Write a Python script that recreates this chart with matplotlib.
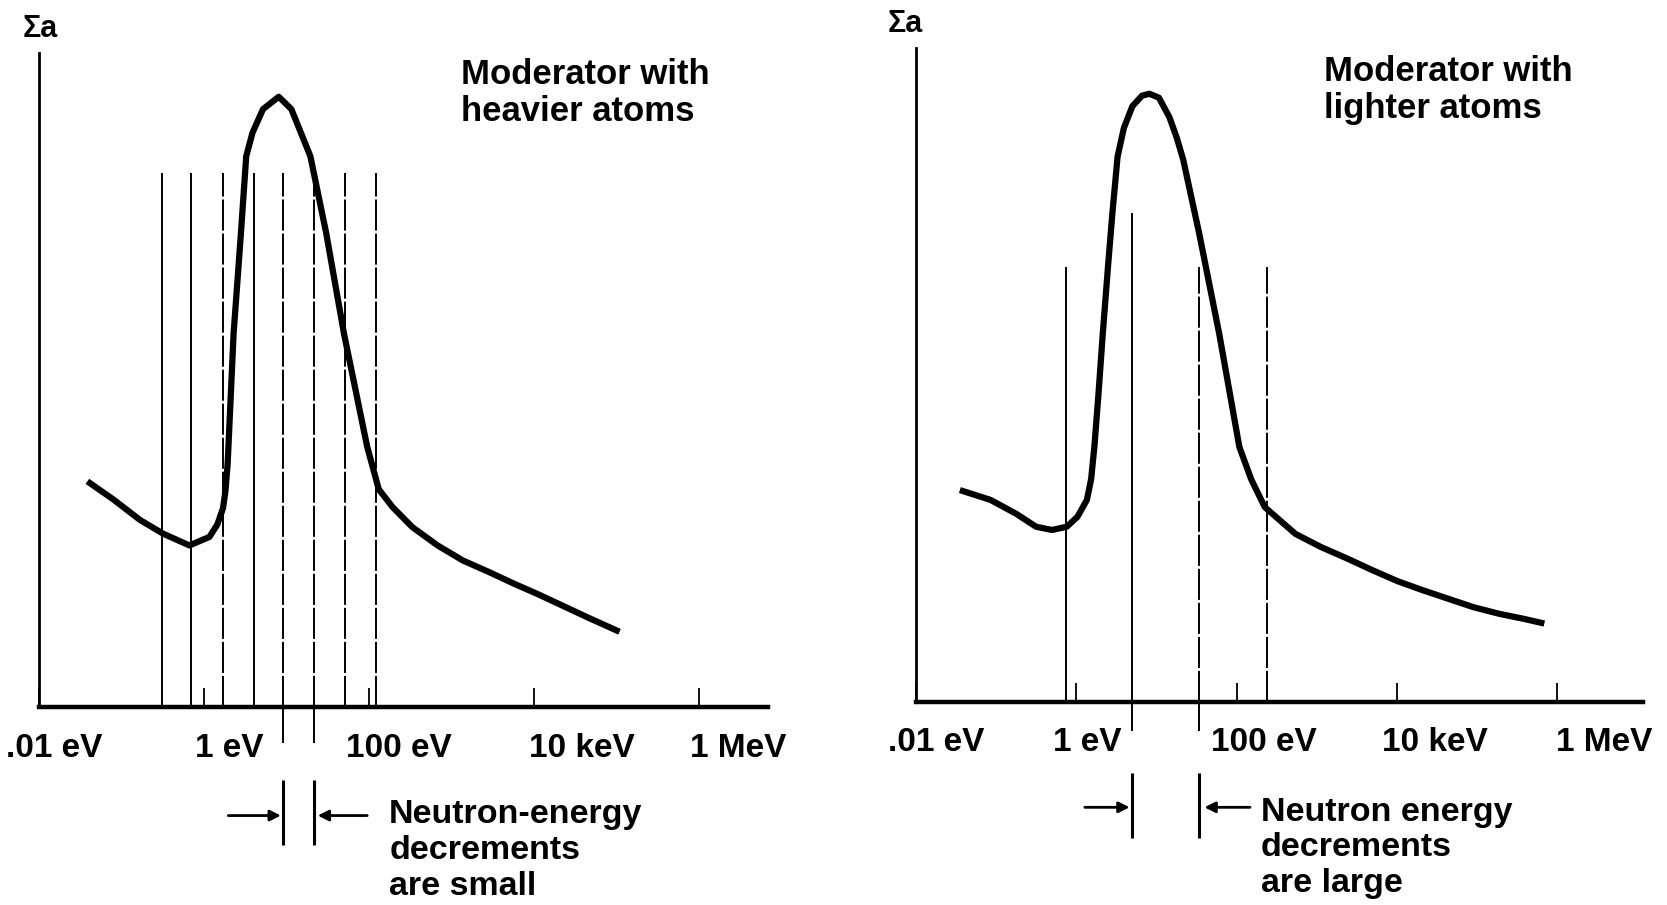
import matplotlib

matplotlib.use("Agg")
import matplotlib.pyplot as plt
from matplotlib.transforms import ScaledTranslation

plt.rcParams["font.family"] = ["Liberation Sans", "DejaVu Sans"]
plt.rcParams["font.weight"] = "bold"

# absorption curve, x in log10(E / eV), y in arbitrary units (axis height = 100)
HEAVY_LOG_E = [-1.414, -1.096, -0.777, -0.497, -0.178, 0.064, 0.160, 0.229, 0.258,
               0.285, 0.318, 0.357, 0.408, 0.446, 0.510, 0.586, 0.713, 0.904, 1.057,
               1.172, 1.287, 1.478, 1.694, 1.975, 2.115, 2.280, 2.522, 2.828, 3.134,
               3.439, 3.745, 4.051, 4.357, 4.662, 5.032]
HEAVY_SIGMA = [34.5, 31.7, 28.6, 26.5, 24.7, 26.0, 27.9, 30.4, 33.0,
               37.2, 46.3, 57.1, 65.9, 72.5, 84.2, 87.8, 91.4, 93.3, 91.4,
               87.8, 84.2, 72.5, 57.1, 39.8, 33.3, 30.6, 27.5, 24.7, 22.4,
               20.7, 18.9, 17.2, 15.4, 13.6, 11.5]
LIGHT_LOG_E = [-1.453, -1.070, -0.753, -0.502, -0.304, -0.119, 0.013, 0.132, 0.185,
               0.225, 0.277, 0.330, 0.396, 0.449, 0.515, 0.594, 0.700, 0.819, 0.911,
               1.030, 1.162, 1.255, 1.334, 1.532, 1.783, 2.034, 2.180, 2.351, 2.734,
               3.052, 3.369, 3.686, 4.003, 4.320, 4.637, 4.954, 5.271, 5.588, 5.839]
LIGHT_SIGMA = [32.4, 30.9, 28.8, 26.8, 26.3, 26.8, 28.3, 30.9, 34.1,
               39.0, 47.2, 56.3, 66.7, 74.6, 83.4, 87.8, 91.1, 92.7, 93.0,
               92.4, 89.4, 86.2, 82.9, 71.7, 56.3, 39.0, 34.1, 29.8, 25.7,
               23.7, 22.0, 20.2, 18.5, 17.1, 15.8, 14.5, 13.5, 12.7, 12.0]

# energies reached after successive collisions
HEAVY_STEPS = [-0.510, -0.153, 0.229, 0.599, 0.955, 1.325, 1.707, 2.076]
HEAVY_STEP_TOP = [81.6, 81.6, 81.6, 81.6, 81.6, 81.6, 81.6, 81.6]
HEAVY_BROKEN = [False, False, True, False, True, True, True, True]
LIGHT_STEPS = [-0.132, 0.700, 1.532, 2.378]
LIGHT_STEP_TOP = [66.5, 74.8, 66.5, 66.5]
LIGHT_BROKEN = [False, False, True, True]

TICK_LOG_E = [-2, 0, 2, 4, 6]
TICK_LABELS = [".01 eV", "1 eV", "100 eV", "10 keV", "1 MeV"]

PANELS = [
    dict(rect=[0.0234, 0.2188, 0.4373, 0.7227], xlim=(-1.90, 6.83),
         log_e=HEAVY_LOG_E, sigma=HEAVY_SIGMA, steps=HEAVY_STEPS, tops=HEAVY_STEP_TOP,
         broken=HEAVY_BROKEN, pair=(4, 5), pad=19,
         label_nudge=[-33, -9, -23, -5, -9],
         title="Moderator with\nheavier atoms", title_xy=(3.108, 93.9),
         note="Neutron-energy\ndecrements\nare small", note_xy=(2.242, -21.9),
         sigma_xy=(-2.20, 103.6), arrows=((0.293, 0.930), (1.975, 1.376)),
         arrow_y=-16.6, seg=(-11.2, -21.1), ext=-5.5),
    dict(rect=[0.5495, 0.2243, 0.4361, 0.7227], xlim=(-1.955, 7.07),
         log_e=LIGHT_LOG_E, sigma=LIGHT_SIGMA, steps=LIGHT_STEPS, tops=LIGHT_STEP_TOP,
         broken=LIGHT_BROKEN, pair=(1, 2), pad=18,
         label_nudge=[-28, -23, -26, -15, -1],
         title="Moderator with\nlighter atoms", title_xy=(3.091, 93.6),
         note="Neutron energy\ndecrements\nare large", note_xy=(2.30, -22.3),
         sigma_xy=(-2.36, 103.7), arrows=((0.106, 0.665), (2.166, 1.598)),
         arrow_y=-16.1, seg=(-10.9, -20.8), ext=-4.5),
]


def draw_panel(fig, p):
    ax = fig.add_axes(p["rect"])
    ax.set_xlim(*p["xlim"])
    ax.set_ylim(0, 100)
    for side in ("top", "right"):
        ax.spines[side].set_visible(False)
    ax.spines["bottom"].set_linewidth(3.2)
    ax.spines["left"].set_linewidth(2.0)
    ax.set_yticks([])
    ax.set_xticks(TICK_LOG_E)
    ax.set_xticklabels(TICK_LABELS, fontsize=24, fontweight="bold")
    ax.tick_params(axis="x", direction="in", length=14, width=1.3, pad=p["pad"])
    for lbl, nudge in zip(ax.get_xticklabels(), p["label_nudge"]):
        shift = ScaledTranslation(nudge / 100, 0, fig.dpi_scale_trans)
        lbl.set_horizontalalignment("left")
        lbl.set_transform(lbl.get_transform() + shift)

    ax.plot(p["log_e"], p["sigma"], color="black", linewidth=4.5,
            solid_joinstyle="round", solid_capstyle="butt")

    for x, top, broken in zip(p["steps"], p["tops"], p["broken"]):
        ls = (0, (16, 1.5)) if broken else "-"
        ax.vlines(x, 0, top, colors="black", linewidth=1.4, linestyles=[ls])

    # the marked pair of collisions, carried below the axis
    i, j = p["pair"]
    for k in (i, j):
        ax.vlines(p["steps"][k], p["ext"], 0, colors="black", linewidth=1.4, clip_on=False)
        ax.vlines(p["steps"][k], p["seg"][1], p["seg"][0], colors="black",
                  linewidth=2.2, clip_on=False)
    for tail, head in p["arrows"]:
        ax.annotate("", xy=(head, p["arrow_y"]), xytext=(tail, p["arrow_y"]),
                    annotation_clip=False,
                    arrowprops=dict(arrowstyle="-|>", color="black", lw=2.0,
                                    mutation_scale=16, shrinkA=0, shrinkB=0))

    ax.text(*p["note_xy"], p["note"], fontsize=24.5, fontweight="bold",
            ha="left", va="center", linespacing=1.2, clip_on=False)
    ax.text(*p["title_xy"], p["title"], fontsize=25, fontweight="bold",
            ha="left", va="center", linespacing=1.15, clip_on=False)
    ax.text(*p["sigma_xy"], "Σa", fontsize=22, fontweight="bold",
            ha="left", va="center", clip_on=False)
    return ax


def main():
    fig = plt.figure(figsize=(16.67, 9.05), dpi=100)
    for panel in PANELS:
        draw_panel(fig, panel)
    fig.savefig("out.png", dpi=100)
    plt.close(fig)


if __name__ == "__main__":
    main()
